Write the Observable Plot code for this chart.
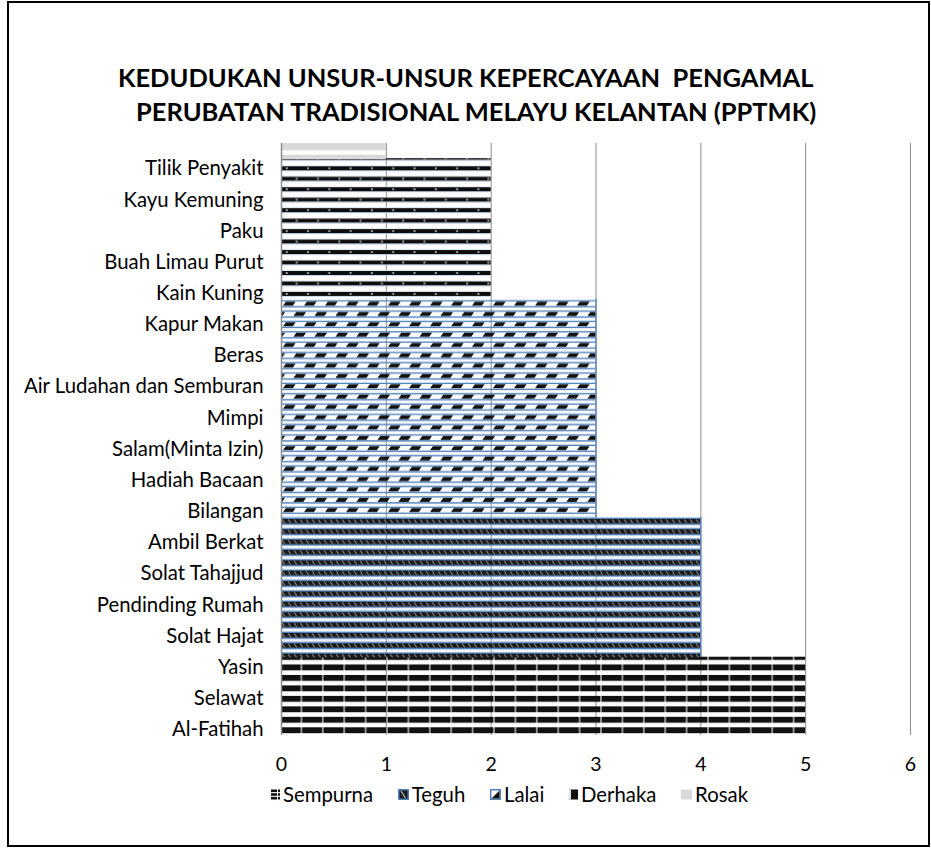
<!DOCTYPE html>
<html><head><meta charset="utf-8">
<script src="https://cdn.jsdelivr.net/npm/d3@7"></script>
<script src="https://cdn.jsdelivr.net/npm/@observablehq/plot@0.6"></script>
<style>
html,body{margin:0;padding:0;background:#fff;}
#wrap{position:relative;width:931px;height:849px;overflow:hidden;font-family:Lato,sans-serif;}
#frame{position:absolute;left:7px;top:1px;width:923px;height:846px;border:2px solid #000;box-sizing:border-box;}
#title{position:absolute;left:0;top:0;}
#chart{position:absolute;left:0;top:120px;}
#legend{position:absolute;top:782px;display:flex;align-items:center;white-space:nowrap;color:#000;}
#legend .item{display:flex;align-items:center;}
#legend svg{display:block;margin-right:3px;}
</style></head>
<body><div id="wrap"><div id="frame"></div><svg id="title" width="931" height="130"></svg><div id="chart"></div><div id="legend"></div></div>
<script>
// ---------- data ----------
const seriesNames = ["Sempurna", "Teguh", "Lalai", "Derhaka", "Rosak"];
const seriesValues = [5, 4, 3, 2, 1];
// one entry per bar row, listed from the bottom of the chart upwards (only every second row carries a label)
const rowLabels = [
  "Al-Fatihah", "", "Selawat", "", "Yasin", "",
  "Solat Hajat", "", "Pendinding Rumah", "", "Solat Tahajjud", "", "Ambil Berkat", "",
  "Bilangan", "", "Hadiah Bacaan", "", "Salam(Minta Izin)", "", "Mimpi", "",
  "Air Ludahan dan Semburan", "", "Beras", "", "Kapur Makan", "",
  "Kain Kuning", "", "Buah Limau Purut", "", "Paku", "", "Kayu Kemuning", "", "Tilik Penyakit", ""
];
const rowSeries = [
  "Sempurna", "Sempurna", "Sempurna", "Sempurna", "Sempurna",
  "Teguh", "Teguh", "Teguh", "Teguh", "Teguh", "Teguh", "Teguh", "Teguh", "Teguh",
  "Lalai", "Lalai", "Lalai", "Lalai", "Lalai", "Lalai", "Lalai", "Lalai", "Lalai", "Lalai", "Lalai", "Lalai", "Lalai", "Lalai",
  "Derhaka", "Derhaka", "Derhaka", "Derhaka", "Derhaka", "Derhaka", "Derhaka", "Derhaka", "Derhaka",
  "Rosak"
];
const xTicks = [0, 1, 2, 3, 4, 5, 6];
const titleLines = ["KEDUDUKAN UNSUR-UNSUR KEPERCAYAAN  PENGAMAL", "PERUBATAN TRADISIONAL MELAYU KELANTAN (PPTMK)"];

const rows = rowLabels.map((label, i) => ({
  id: i, label, series: rowSeries[i],
  value: seriesValues[seriesNames.indexOf(rowSeries[i])]
}));

// ---------- helpers ----------
const ctx = document.createElement("canvas").getContext("2d");
function fit(text, weight, target) {
  ctx.font = `${weight} 100px Lato`;
  return 100 * target / ctx.measureText(text).width;
}
const FONT = "Lato, sans-serif";
const BLUE = "#4f81bd";
const TOP = 120; // chart svg offset on page

// ---------- title ----------
const tSize = fit(titleLines[1], "bold", 682);
const tsvg = d3.select("#title");
tsvg.append("text").attr("x", 118).attr("y", 87).text(titleLines[0]);
tsvg.append("text").attr("x", 136).attr("y", 121).text(titleLines[1]);
tsvg.selectAll("text").attr("font-family", FONT).attr("font-weight", "bold")
  .attr("font-size", tSize).attr("fill", "#000").style("white-space", "pre");

// ---------- chart ----------
const ySize = fit("Air Ludahan dan Semburan", "normal", 240);
const patternFill = s => `url(#p${s})`;

const marks = [
  Plot.ruleX(xTicks.slice(1), {stroke: "#8c8c8c", strokeWidth: 1})
];
for (const s of seriesNames) {
  marks.push(Plot.barX(rows.filter(d => d.series === s), {
    x: "value", y: "id", fill: patternFill(s), insetTop: -0.4, insetBottom: -0.4
  }));
}
marks.push(Plot.tickX(rows.filter(d => d.series === "Teguh" || d.series === "Lalai"),
  {x: "value", y: "id", stroke: BLUE, strokeWidth: 1.3}));
marks.push(Plot.ruleX([0], {stroke: "#8c8c8c", strokeWidth: 1.5}));

const chart = Plot.plot({
  width: 931, height: 680,
  marginLeft: 281, marginRight: 21, marginTop: 23, marginBottom: 65,
  style: {fontFamily: FONT, fontSize: ySize + "px", background: "transparent", color: "#000"},
  x: {domain: [0, 6], ticks: xTicks, tickSize: 0, tickPadding: 22, label: null, tickFormat: d => String(d)},
  y: {type: "band", domain: rows.map(d => d.id).reverse(), padding: 0, round: false, tickSize: 0, tickPadding: 18,
      tickFormat: i => rowLabels[i], label: null},
  marks
});

// pattern definitions
const P1 = 10.47, P2 = 10.36, P3 = 10.32;
function lalaiRow(r) {
  const b = r * P3, dx = r ? 12.5 : 2;
  const dash = x => `<polygon points="${x+2.8},${b+0.3} ${x+12.6},${b+0.3} ${x+9.8},${b+4.2} ${x},${b+4.2}" fill="#111"/>`;
  return `${dash(dx)}${dash(dx - 21)}
    <rect y="${b+4.6}" width="21" height="1.4" fill="${BLUE}"/>
    <rect y="${b+9}" width="21" height="${P3-9}" fill="${BLUE}"/>`;
}
function derhakaRow(r) {
  const b = r * P1, dx = r ? 14.7 : 4.7;
  return `<rect y="${b}" width="21.3" height="4.1" fill="#0d0d0d"/>
    <rect x="${dx}" y="${b+1}" width="2" height="2" fill="#a0a0a0"/>
    <rect y="${b+4.1}" width="21.3" height="1" fill="#c6d7ee"/>
    <rect y="${b+P1-1}" width="21.3" height="1" fill="#dbe5f1"/>`;
}
const defs = `
<pattern id="pSempurna" patternUnits="userSpaceOnUse" x="281" y="${654-TOP}" width="21.4" height="${P1}">
  <rect x="0" y="0" width="19.6" height="5.9" fill="#111"/>
  <rect x="19.6" y="0" width="1.8" height="5.9" fill="#8a8a8a"/>
</pattern>
<pattern id="pTeguh" patternUnits="userSpaceOnUse" x="281" y="${519-TOP}" width="6" height="${P2}">
  <rect y="0" width="6" height="4.6" fill="#1a1a1a"/>
  <line x1="1.2" y1="0.6" x2="3.8" y2="4.0" stroke="#8f8f8f" stroke-width="1"/>
  <rect y="4.6" width="6" height="1.4" fill="${BLUE}"/>
  <rect y="9" width="6" height="${P2-9}" fill="${BLUE}"/>
</pattern>
<pattern id="pLalai" patternUnits="userSpaceOnUse" x="281" y="${301.5-TOP}" width="21" height="${2*P3}">
  ${lalaiRow(0)}${lalaiRow(1)}
</pattern>
<pattern id="pDerhaka" patternUnits="userSpaceOnUse" x="281" y="${166.3-TOP}" width="21.3" height="${2*P1}">
  ${derhakaRow(0)}${derhakaRow(1)}
</pattern>
<pattern id="pRosak" patternUnits="userSpaceOnUse" x="281" y="${143-TOP}" width="10" height="11.7">
  <rect y="0" width="10" height="7.3" fill="#d9d9d9"/>
</pattern>`;
const defsEl = document.createElementNS("http://www.w3.org/2000/svg", "defs");
defsEl.innerHTML = defs;
chart.insertBefore(defsEl, chart.firstChild);

// x tick labels a bit larger; y labels nudged slightly down
d3.select(chart).selectAll('g[aria-label^="x-axis"] text').attr("font-size", 19.5);
d3.select(chart).selectAll('g[aria-label^="y-axis"] text').attr("dy", 2);
document.getElementById("chart").appendChild(chart);

// ---------- legend ----------
const swatches = {
  Sempurna: `<svg width="9" height="11"><rect x="0" y="0.5" width="9" height="2.6" fill="#111"/><rect x="0" y="4.2" width="9" height="2.6" fill="#111"/><rect x="0" y="7.9" width="9" height="2.6" fill="#111"/><rect x="6" y="0" width="1" height="11" fill="#fff"/></svg>`,
  Teguh: `<svg width="11" height="11"><rect x="0.75" y="0.75" width="9.5" height="9.5" fill="#1a1a1a" stroke="${BLUE}" stroke-width="1.5"/><line x1="3" y1="2" x2="7.5" y2="9" stroke="#bbb" stroke-width="1.3"/></svg>`,
  Lalai: `<svg width="11" height="11"><rect x="0.75" y="0.75" width="9.5" height="9.5" fill="#fff" stroke="${BLUE}" stroke-width="1.5"/><polygon points="9.5,1.5 9.5,9.5 1.5,9.5" fill="#111"/></svg>`,
  Derhaka: `<svg width="9" height="11"><rect x="0" y="0.5" width="9" height="10" fill="#111"/><rect x="0" y="0.5" width="2" height="10" fill="#dbe5f1"/></svg>`,
  Rosak: `<svg width="11" height="11"><rect x="0" y="0.5" width="11" height="10" fill="#d9d9d9"/></svg>`
};
const lSize = ySize;
const legend = d3.select("#legend").style("font-size", lSize + "px").style("font-family", FONT);
seriesNames.forEach((s, i) => {
  legend.append("div").attr("class", "item").html(swatches[s] + `<span>${s}</span>`);
});
// spread the items so the legend spans the same width as in the reference
const items = Array.from(document.querySelectorAll("#legend .item"));
const used = items.reduce((a, el) => a + el.getBoundingClientRect().width, 0);
const gap = Math.max(6, (477 - used) / 4);
items.forEach((el, i) => { if (i < 4) el.style.marginRight = gap + "px"; });
const lw = document.getElementById("legend").getBoundingClientRect().width;
legend.style("left", (271 + (477 - lw) / 2) + "px");
</script>
</body></html>
